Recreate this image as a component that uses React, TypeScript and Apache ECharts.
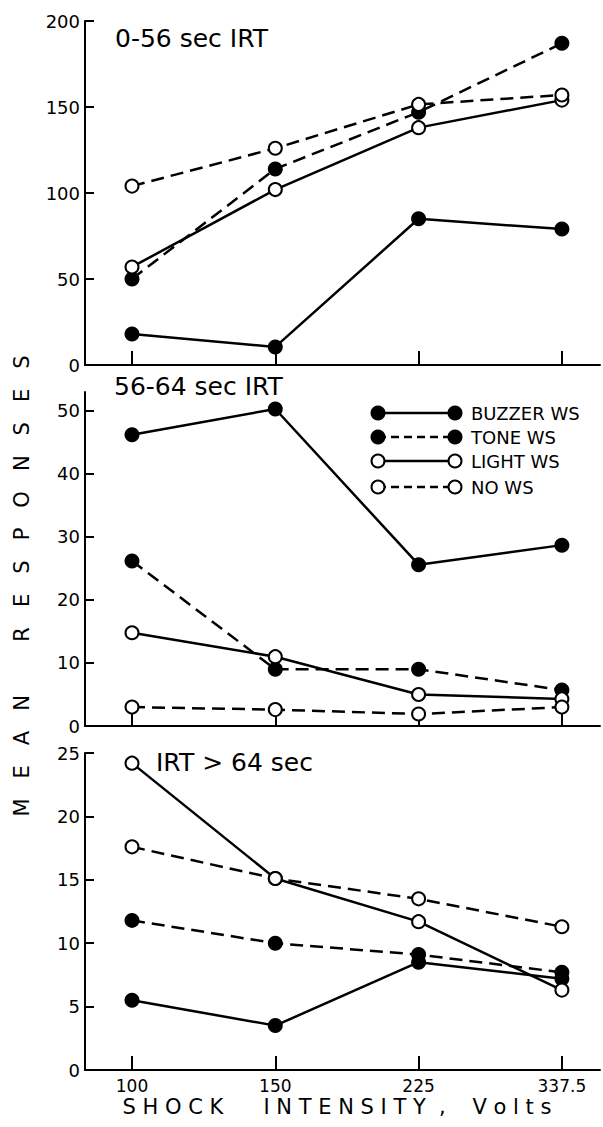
import React, { useEffect, useRef } from "react";
import * as echarts from "echarts";

// ---- data ----
const categories = ["100", "150", "225", "337.5"];
const seriesNames = ["BUZZER WS", "TONE WS", "LIGHT WS", "NO WS"];
const panelTitles = ["0-56 sec IRT", "56-64 sec IRT", "IRT > 64 sec"];

const irtShortBuzzer = [18, 10.5, 85, 79];
const irtShortTone = [50, 114, 147, 187];
const irtShortLight = [57, 102, 138, 154];
const irtShortNo = [104, 126, 151.5, 157];

const irtMidBuzzer = [46.2, 50.3, 25.6, 28.7];
const irtMidTone = [26.2, 9, 9, 5.7];
const irtMidLight = [14.8, 11, 5, 4.3];
const irtMidNo = [3, 2.6, 1.9, 3];

const irtLongBuzzer = [5.5, 3.5, 8.5, 7.2];
const irtLongTone = [11.8, 10, 9.1, 7.7];
const irtLongLight = [24.2, 15.1, 11.7, 6.3];
const irtLongNo = [17.6, 15.1, 13.5, 11.3];

const yTicksShort = [0, 50, 100, 150, 200];
const yTicksMid = [0, 10, 20, 30, 40, 50];
const yTicksLong = [0, 5, 10, 15, 20, 25];

const panelData = [
  [irtShortBuzzer, irtShortTone, irtShortLight, irtShortNo],
  [irtMidBuzzer, irtMidTone, irtMidLight, irtMidNo],
  [irtLongBuzzer, irtLongTone, irtLongLight, irtLongNo],
];
const panelTicks = [yTicksShort, yTicksMid, yTicksLong];
const panelMax = [200, 53, 25];

// ---- layout ----
const W = 603;
const H = 1127;
const GRIDS = [
  { left: 85, top: 21, height: 344 },
  { left: 85, top: 392, height: 334 },
  { left: 85, top: 753, height: 317 },
];
const GRID_RIGHT = 3;
const X_MIN = -0.328;
const X_MAX = 3.266;
const FONT = "DejaVu Sans";

const filledKinds = [true, true, false, false];
const dashedKinds = [false, true, false, true];

export default function App() {
  const ref = useRef<HTMLDivElement>(null);

  useEffect(() => {
    if (!ref.current) return;
    const chart = echarts.init(ref.current, undefined, { renderer: "svg" });

    const grid = GRIDS.map((g) => ({
      left: g.left,
      top: g.top,
      height: g.height,
      right: GRID_RIGHT,
      containLabel: false,
    }));

    const xAxis = GRIDS.map((_, i) => ({
      type: "value",
      gridIndex: i,
      min: X_MIN,
      max: X_MAX,
      axisLine: { show: true, onZero: false, lineStyle: { color: "#000", width: 2 } },
      axisTick: {
        show: true,
        inside: true,
        length: 14,
        customValues: categories.map((_, k) => k),
        lineStyle: { color: "#000", width: 2 },
      },
      axisLabel: {
        show: i === 2,
        customValues: categories.map((_, k) => k),
        formatter: (v: number) => categories[Math.round(v)] ?? "",
        color: "#000",
        fontSize: 17,
        fontFamily: FONT,
        margin: 7,
      },
      splitLine: { show: false },
    }));

    const yAxis = GRIDS.map((_, i) => ({
      type: "value",
      gridIndex: i,
      min: 0,
      max: panelMax[i],
      axisLine: { show: true, onZero: false, lineStyle: { color: "#000", width: 2 } },
      axisTick: {
        show: true,
        inside: true,
        length: 9,
        customValues: panelTicks[i],
        lineStyle: { color: "#000", width: 2 },
      },
      axisLabel: {
        customValues: panelTicks[i],
        color: "#000",
        fontSize: 18,
        fontFamily: FONT,
        margin: 5,
      },
      splitLine: { show: false },
    }));

    const series: any[] = [];
    panelData.forEach((group, gi) => {
      group.forEach((vals, si) => {
        const filled = filledKinds[si];
        const dashed = dashedKinds[si];
        series.push({
          type: "line",
          name: seriesNames[si],
          xAxisIndex: gi,
          yAxisIndex: gi,
          data: vals.map((v, k) => [k, v]),
          symbol: "circle",
          symbolSize: filled ? 15 : 13,
          showSymbol: true,
          silent: true,
          lineStyle: { color: "#000", width: 2.5, type: dashed ? [13, 7] : "solid" },
          itemStyle: {
            color: filled ? "#000" : "#fff",
            borderColor: "#000",
            borderWidth: filled ? 0 : 2,
          },
          emphasis: { disabled: true },
          z: filled ? 2 : 3,
        });
      });
    });

    const titlePos = [
      { x: 115, y: 38 },
      { x: 114, y: 386 },
      { x: 156, y: 762 },
    ];

    const graphic: any[] = panelTitles.map((t, i) => ({
      type: "text",
      x: titlePos[i].x,
      y: titlePos[i].y,
      style: {
        text: t,
        fontSize: 25,
        fontFamily: FONT,
        fill: "#000",
        textAlign: "left",
        textVerticalAlign: "middle",
      },
    }));

    const legendRows = [413, 437, 461, 487];
    seriesNames.forEach((name, i) => {
      const y = legendRows[i];
      const filled = filledKinds[i];
      const dashed = dashedKinds[i];
      graphic.push({
        type: "line",
        shape: { x1: 378, y1: y, x2: 455, y2: y },
        style: { stroke: "#000", lineWidth: 2.5, lineDash: dashed ? [8, 5] : null },
        z: 10,
      });
      [378, 455].forEach((cx) =>
        graphic.push({
          type: "circle",
          shape: { cx, cy: y, r: filled ? 7.5 : 6.5 },
          style: {
            fill: filled ? "#000" : "#fff",
            stroke: "#000",
            lineWidth: filled ? 0 : 2,
          },
          z: 11,
        })
      );
      graphic.push({
        type: "text",
        x: 471,
        y,
        style: {
          text: name,
          fontSize: 18,
          fontFamily: FONT,
          fill: "#000",
          textAlign: "left",
          textVerticalAlign: "middle",
        },
        z: 11,
      });
    });

    graphic.push({
      type: "text",
      x: 22,
      y: 586,
      rotation: Math.PI / 2,
      style: {
        text: "M   E   A   N        R   E   S   P   O   N   S   E   S",
        fontSize: 21,
        fontFamily: FONT,
        fill: "#000",
        textAlign: "center",
        textVerticalAlign: "middle",
      },
    });

    graphic.push({
      type: "text",
      x: 337,
      y: 1107,
      style: {
        text: "S H O C K      I N T E N S I T Y  ,    V o l t s",
        fontSize: 21,
        fontFamily: FONT,
        fill: "#000",
        textAlign: "center",
        textVerticalAlign: "middle",
      },
    });

    chart.setOption({
      animation: false,
      backgroundColor: "#fff",
      grid,
      xAxis,
      yAxis,
      series,
      graphic,
    });

    return () => chart.dispose();
  }, []);

  return (
    <div
      ref={ref}
      style={{ position: "absolute", left: 0, top: 0, width: W, height: H, background: "#fff" }}
    />
  );
}
